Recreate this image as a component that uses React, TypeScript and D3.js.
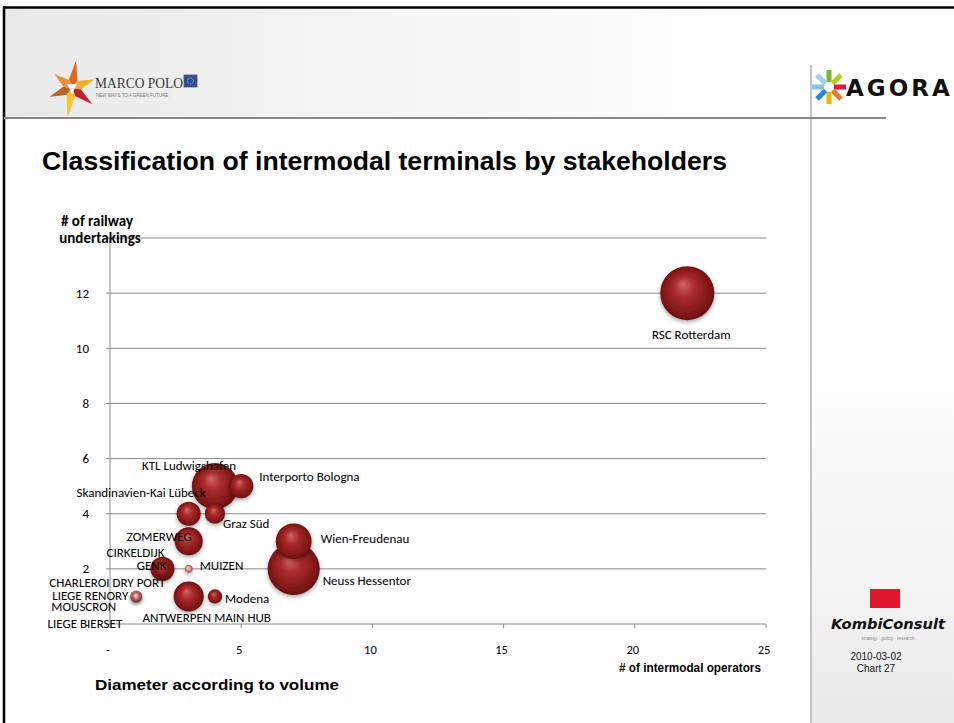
import React from "react";
import * as d3 from "d3";

// terminals, x = number of intermodal operators, y = number of railway undertakings
const terminals = [
  "RSC Rotterdam",
  "KTL Ludwigshafen",
  "Interporto Bologna",
  "Skandinavien-Kai Lübeck",
  "Graz Süd",
  "ZOMERWEG",
  "Wien-Freudenau",
  "Neuss Hessentor",
  "CIRKELDIJK",
  "GENK",
  "MUIZEN",
  "CHARLEROI DRY PORT",
  "LIEGE RENORY",
  "MOUSCRON",
  "LIEGE BIERSET",
  "ANTWERPEN MAIN HUB",
  "Modena",
];
const operators = [22, 4, 5, 3, 4, 3, 7, 7, 2, 2, 3, 1, 1, 1, 1, 3, 4];
const railways = [12, 5, 5, 4, 4, 3, 3, 2, 2, 2, 2, 1, 1, 1, 0, 1, 1];
// relative volume (bubble area)
const volumes = [100, 73, 20, 20, 14, 27, 44, 93, 8, 20, 2, 3, 5, 2, 0, 31, 7];

const xTicks = [0, 5, 10, 15, 20, 25];
const yTicks = [0, 2, 4, 6, 8, 10, 12, 14];

// label placement relative to bubble centre (px) - presentation only
const labelPos: [number, number, string][] = [
  [4, 41, "middle"],
  [-26, -21, "middle"],
  [18, -10, "start"],
  [17, -21, "end"],
  [8, 10, "start"],
  [3, -5, "end"],
  [27, -3, "start"],
  [29, 12, "start"],
  [2, -16, "end"],
  [4, -3, "end"],
  [11, -3, "start"],
  [29, -14, "end"],
  [-8, -1, "end"],
  [-20, 10, "end"],
  [-14, -1, "end"],
  [18, 21, "middle"],
  [10, 2, "start"],
];

const W = 954;
const H = 723;
const chartFont = "Carlito, Lato, 'Open Sans', sans-serif";
const narrowFont = "'Liberation Sans Narrow', 'Arial Narrow', 'Liberation Sans', Arial, sans-serif";

const x = d3.scaleLinear().domain([0, 25]).range([110, 766]);
const y = d3.scaleLinear().domain([0, 14]).range([624, 238]);
const r = d3.scaleSqrt().domain([0, 100]).range([0, 27]);
const fmt = (v: number) => (v === 0 ? "-" : String(v));

const MarcoPolo = () => {
  const cx = 72, cy = 88;
  const cols = ["#e8641e", "#f0b020", "#c8202a", "#f4c430", "#b8642a", "#e89030"];
  const lens = [28, 24, 26, 30, 24, 22];
  return (
    <g>
      {cols.map((c, i) => {
        const a = -Math.PI / 2 + (i * Math.PI * 2) / 6 + 0.15;
        const a1 = a - 0.5, a2 = a + 0.5;
        const p = [
          [cx + Math.cos(a1) * 9, cy + Math.sin(a1) * 9],
          [cx + Math.cos(a) * lens[i], cy + Math.sin(a) * lens[i]],
          [cx + Math.cos(a2) * 9, cy + Math.sin(a2) * 9],
          [cx, cy],
        ];
        return <polygon key={i} points={p.map((d) => d.join(",")).join(" ")} fill={c} />;
      })}
      <polygon points={`${cx - 5},${cy - 4} ${cx + 5},${cy - 4} ${cx},${cy + 6}`} fill="#fff" />
      <text x={95} y={88} fontFamily="'Liberation Serif', 'DejaVu Serif', serif" fontSize={15} fill="#3a3a3a" textLength={88} lengthAdjust="spacingAndGlyphs">
        MARCO POLO
      </text>
      <rect x={184} y={75} width={13} height={12} fill="#2b4fa0" stroke="#555" strokeWidth={0.8} />
      <circle cx={190.5} cy={81} r={3} fill="none" stroke="#f4d03f" strokeWidth={0.8} strokeDasharray="1 1" />
      <text x={96} y={97} fontFamily="Arial, sans-serif" fontSize={4.5} fill="#777">
        NEW WAYS TO A GREEN FUTURE
      </text>
    </g>
  );
};

const Agora = () => {
  const cx = 829, cy = 87;
  const cols = ["#7cb82f", "#b5cc1a", "#e0193a", "#e9762b", "#f4b400", "#1e88e5", "#7ec8e3", "#9ad4ea"];
  return (
    <g>
      {cols.map((c, i) => {
        const ang = -90 + i * 45;
        return (
          <rect key={i} x={5} y={-2.5} width={12} height={5} fill={c}
            transform={`translate(${cx},${cy}) rotate(${ang})`} />
        );
      })}
      <text x={846} y={96} fontFamily="'DejaVu Sans', 'Liberation Sans', sans-serif" fontWeight="bold" fontSize={23} letterSpacing={3} fill="#111">
        AGORA
      </text>
    </g>
  );
};

const App = () => {
  const idx = d3.range(terminals.length).sort((a, b) => volumes[b] - volumes[a]);
  return (
    <svg width={W} height={H} style={{ position: "absolute", left: 0, top: 0, background: "#fff" }}>
      <defs>
        <linearGradient id="hdr" x1="0" x2="1" y1="0" y2="0">
          <stop offset="0" stopColor="#e9e9e9" />
          <stop offset="0.75" stopColor="#ffffff" />
        </linearGradient>
        <linearGradient id="side" x1="0" x2="0" y1="0" y2="1">
          <stop offset="0.4" stopColor="#ffffff" />
          <stop offset="1" stopColor="#ebebeb" />
        </linearGradient>
        <radialGradient id="ball" cx="0.5" cy="0.5" r="0.55" fx="0.42" fy="0.33">
          <stop offset="0" stopColor="#d06666" />
          <stop offset="0.35" stopColor="#aa2b2b" />
          <stop offset="0.8" stopColor="#7e1616" />
          <stop offset="1" stopColor="#5a0b0b" />
        </radialGradient>
        <radialGradient id="ballSmall" cx="0.5" cy="0.5" r="0.55" fx="0.4" fy="0.35">
          <stop offset="0" stopColor="#fbeeee" />
          <stop offset="0.45" stopColor="#d99a9a" />
          <stop offset="1" stopColor="#9a3c3c" />
        </radialGradient>
        <filter id="shadow" x="-50%" y="-50%" width="200%" height="200%">
          <feDropShadow dx="0" dy="2" stdDeviation="2" floodColor="#000" floodOpacity="0.35" />
        </filter>
      </defs>

      {/* slide frame */}
      <rect x={4} y={8} width={W} height={110} fill="url(#hdr)" />
      <rect x={812} y={119} width={W - 812} height={H - 119} fill="url(#side)" />
      <line x1={3} x2={W} y1={7.5} y2={7.5} stroke="#000" strokeWidth={2.5} />
      <line x1={4} x2={4} y1={6} y2={H} stroke="#000" strokeWidth={2.5} />
      <line x1={4} x2={886} y1={118} y2={118} stroke="#888" strokeWidth={2} />
      <line x1={811} x2={811} y1={65} y2={H} stroke="#888" strokeWidth={1} />
      <MarcoPolo />
      <Agora />

      {/* KombiConsult */}
      <rect x={870} y={589} width={30} height={19} fill="#e0182d" />
      <text x={888} y={629} textAnchor="middle" fontFamily="'DejaVu Sans', 'Liberation Sans', Arial, sans-serif" fontWeight="900" fontStyle="italic" fontSize={14} fill="#111" textLength={114} lengthAdjust="spacingAndGlyphs">
        KombiConsult
      </text>
      <text x={888} y={640} textAnchor="middle" fontFamily="Arial, sans-serif" fontSize={4.5} fill="#888">
        strategy · policy · research
      </text>
      <text x={876} y={660} textAnchor="middle" fontFamily={narrowFont} fontSize={10} fill="#111">2010-03-02</text>
      <text x={876} y={672} textAnchor="middle" fontFamily={narrowFont} fontSize={10} fill="#111">Chart 27</text>

      {/* title */}
      <text x={42} y={170} fontFamily="'Liberation Sans', Arial, sans-serif" fontWeight="bold" fontSize={25} fill="#000" textLength={685} lengthAdjust="spacingAndGlyphs">
        Classification of intermodal terminals by stakeholders
      </text>

      {/* grid + axes */}
      <g>
        {yTicks.filter((t) => t > 0).map((t) => (
          <line key={t} x1={x(0)} x2={x(25)} y1={y(t)} y2={y(t)} stroke="#8a8a8a" strokeWidth={1} />
        ))}
        <line x1={x(0)} x2={x(0)} y1={y(14)} y2={y(0)} stroke="#8a8a8a" />
        <line x1={x(0)} x2={x(25)} y1={y(0)} y2={y(0)} stroke="#8a8a8a" />
        {yTicks.map((t) => (
          <line key={t} x1={x(0) - 4} x2={x(0)} y1={y(t)} y2={y(t)} stroke="#8a8a8a" />
        ))}
        {xTicks.map((t) => (
          <line key={t} x1={x(t)} x2={x(t)} y1={y(0)} y2={y(0) + 4} stroke="#8a8a8a" />
        ))}
        {yTicks.filter((t) => t < 14).map((t) => (
          <text key={t} x={89} y={y(t)} textAnchor="end" dominantBaseline="central" fontFamily={chartFont} fontSize={13} fill="#000">
            {fmt(t)}
          </text>
        ))}
        {xTicks.map((t) => (
          <text key={t} x={x(t) - 2} y={649} textAnchor="middle" dominantBaseline="central" fontFamily={chartFont} fontSize={12.5} fill="#000">
            {fmt(t)}
          </text>
        ))}
      </g>

      {/* axis titles */}
      <text textAnchor="middle" fontFamily={chartFont} fontWeight="bold" fontSize={15} fill="#000">
        <tspan x={97} y={226}>{"# of railway"}</tspan>
        <tspan x={100} y={243}>undertakings</tspan>
      </text>
      <text x={761} y={672} textAnchor="end" fontFamily={narrowFont} fontWeight="bold" fontSize={13.5} fill="#000" textLength={142} lengthAdjust="spacingAndGlyphs">
        # of intermodal operators
      </text>
      <text x={95} y={690} fontFamily={narrowFont} fontWeight="bold" fontSize={15} fill="#000" textLength={244} lengthAdjust="spacingAndGlyphs">
        Diameter according to volume
      </text>

      {/* bubbles */}
      <g>
        {idx.filter((i) => volumes[i] > 0).map((i) => {
          const rad = r(volumes[i]);
          return (
            <circle key={i} cx={x(operators[i])} cy={y(railways[i])} r={rad}
              fill={rad < 7 ? "url(#ballSmall)" : "url(#ball)"} filter="url(#shadow)" />
          );
        })}
      </g>
      <g>
        {terminals.map((name, i) => {
          const [dx, dy, anchor] = labelPos[i];
          return (
            <text key={name} x={x(operators[i]) + dx} y={y(railways[i]) + dy} textAnchor={anchor}
              dominantBaseline="central" fontFamily={chartFont} fontSize={13} fill="#000">
              {name}
            </text>
          );
        })}
      </g>
    </svg>
  );
};

export default App;
